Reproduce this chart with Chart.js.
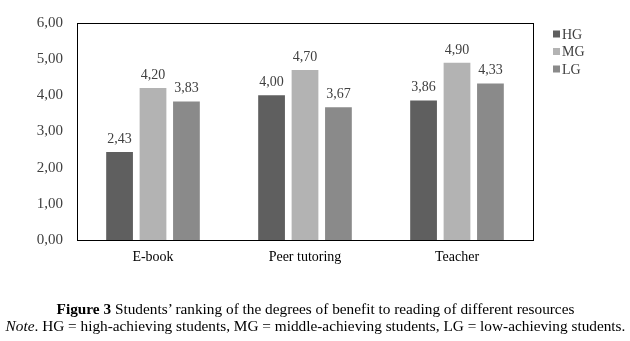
<!DOCTYPE html>
<html>
<head>
<meta charset="utf-8">
<script src="https://cdn.jsdelivr.net/npm/chart.js@4/dist/chart.umd.min.js"></script>
<style>
  html, body { margin: 0; padding: 0; background: #fff; }
  #wrap { position: relative; width: 630px; height: 341px; }
  #c { position: absolute; left: 0; top: 0; }
  #cap { position: absolute; left: 0; top: 299.5px; width: 631px; text-align: center; white-space: nowrap;
         font-family: "Liberation Serif", "Times New Roman", serif; font-size: 15.3px; line-height: 17px; color: #000; }
</style>
</head>
<body>
<div id="wrap">
  <canvas id="c" width="630" height="341"></canvas>
  <div id="cap"><b>Figure 3</b> Students’ ranking of the degrees of benefit to reading of different resources<br><i>Note</i>. HG = high-achieving students, MG = middle-achieving students, LG = low-achieving students.</div>
</div>
<script>
const categories = ["E-book", "Peer tutoring", "Teacher"];
const seriesNames = ["HG", "MG", "LG"];
const hgValues = [2.43, 4.00, 3.86];
const mgValues = [4.20, 4.70, 4.90];
const lgValues = [3.83, 3.67, 4.33];
const yTicks = [0, 1, 2, 3, 4, 5, 6];

const colors = ["#5f5f5f", "#b3b3b3", "#8a8a8a"];
const fmt = v => v.toFixed(2).replace(".", ",");
const serif = "'Liberation Serif', 'Times New Roman', serif";

const boxPlugin = {
  id: "box",
  afterDraw(chart) {
    const a = chart.chartArea, ctx = chart.ctx;
    ctx.save();
    ctx.strokeStyle = "#000";
    ctx.lineWidth = 1;
    ctx.strokeRect(Math.round(a.left) + 0.5, Math.round(a.top) + 0.5,
                   Math.round(a.right - a.left), Math.round(a.bottom - a.top));
    ctx.restore();
  }
};
const labelPlugin = {
  id: "vals",
  afterDatasetsDraw(chart) {
    const ctx = chart.ctx;
    ctx.save();
    ctx.font = "14px " + serif;
    ctx.fillStyle = "#404040";
    ctx.textAlign = "center";
    ctx.textBaseline = "alphabetic";
    chart.data.datasets.forEach((ds, i) => {
      chart.getDatasetMeta(i).data.forEach((bar, j) => {
        ctx.fillText(fmt(ds.data[j]), bar.x, bar.y - 9);
      });
    });
    ctx.restore();
  }
};
const legendPlugin = {
  id: "sideLegend",
  afterDraw(chart) {
    const a = chart.chartArea, ctx = chart.ctx;
    ctx.save();
    ctx.font = "14px " + serif;
    ctx.textBaseline = "middle";
    ctx.textAlign = "left";
    chart.data.datasets.forEach((ds, i) => {
      const y = a.top + 11 + i * 17.5;
      const x = a.right + 20;
      ctx.fillStyle = ds.backgroundColor;
      ctx.fillRect(x, y - 3.5, 7, 7);
      ctx.fillStyle = "#404040";
      ctx.fillText(ds.label, x + 9, y + 1);
    });
    ctx.restore();
  }
};

new Chart(document.getElementById("c"), {
  type: "bar",
  data: {
    labels: categories,
    datasets: [
      { label: seriesNames[0], data: hgValues, backgroundColor: colors[0] },
      { label: seriesNames[1], data: mgValues, backgroundColor: colors[1] },
      { label: seriesNames[2], data: lgValues, backgroundColor: colors[2] }
    ]
  },
  options: {
    responsive: false,
    animation: false,
    layout: { padding: { left: 0, top: 17, right: 97, bottom: 0 } },
    datasets: { bar: { categoryPercentage: 0.66, barPercentage: 0.8 } },
    plugins: {
      tooltip: { enabled: false },
      legend: { display: false }
    },
    scales: {
      x: {
        grid: { display: false, drawTicks: false },
        border: { display: false },
        afterFit(axis) { axis.height = 101; },
        ticks: { color: "#000", font: { family: serif, size: 14 }, padding: 9 }
      },
      y: {
        min: 0, max: 6,
        afterBuildTicks(axis) { axis.ticks = yTicks.map(v => ({ value: v })); },
        afterFit(axis) { axis.width = 77; },
        grid: { display: false, drawTicks: false },
        border: { display: false },
        ticks: { color: "#404040", font: { family: serif, size: 15 }, padding: 14,
                 callback: v => fmt(v) }
      }
    }
  },
  plugins: [boxPlugin, labelPlugin, legendPlugin]
});
</script>
</body>
</html>
